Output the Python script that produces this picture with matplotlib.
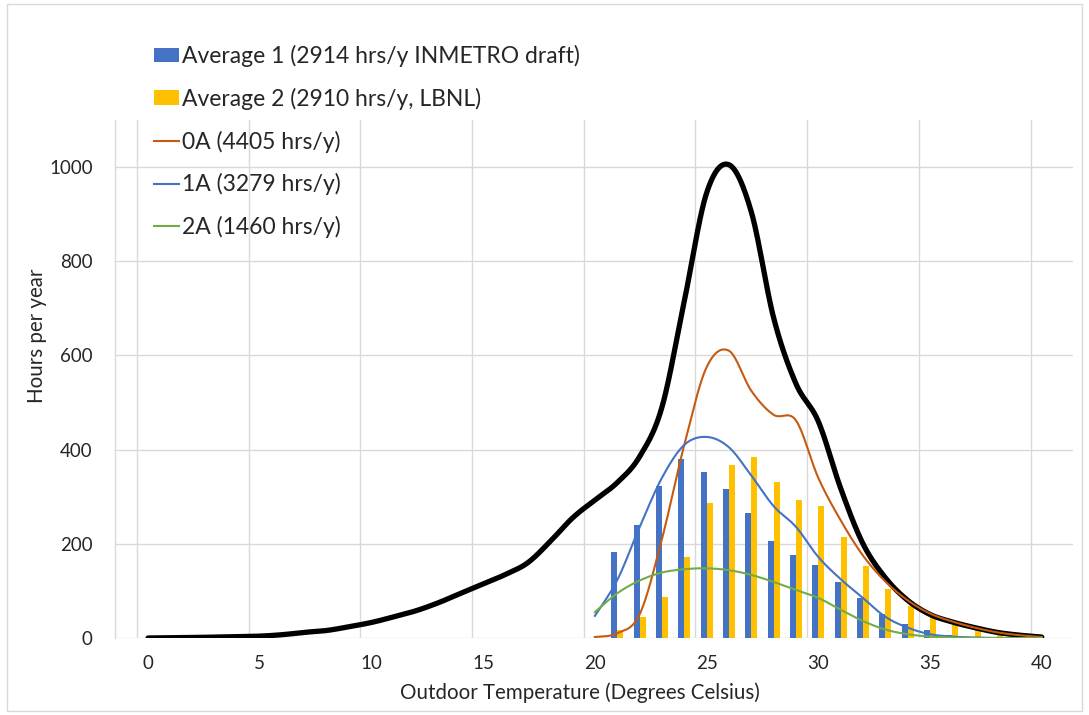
import numpy as np
import matplotlib
matplotlib.use("Agg")
import matplotlib.pyplot as plt
from matplotlib.patches import Rectangle

plt.rcParams['font.family'] = ['Lato', 'DejaVu Sans']

# ---------------- data ----------------
temps_all = list(range(0, 41))
total_hours = [0, 0.5, 1, 2, 3, 4, 7, 12, 16, 24, 33, 45, 58, 75, 95, 115, 135, 160,
               205, 255, 293, 330, 385, 490, 715, 945, 1005, 905, 680, 540, 460, 318,
               200, 128, 80, 50, 34, 22, 12, 6, 2]

temps_zone = list(range(20, 41))
zone_0A = [2, 10, 50, 210, 410, 575, 610, 525, 474, 462, 340, 250, 175, 120, 80, 52,
           35, 22, 12, 6, 2]
zone_1A = [47, 123, 235, 340, 410, 427, 405, 345, 280, 236, 172, 125, 85, 45, 22, 8,
           3, 1, 0, 0, 0]
zone_2A = [55, 95, 122, 139, 146, 148, 144, 134, 119, 102, 85, 60, 36, 18, 8, 3,
           1, 0, 0, 0, 0]

temps_bar = list(range(21, 41))
avg1 = [182, 240, 323, 380, 353, 317, 265, 206, 176, 154, 118, 84, 52, 30, 16, 6, 2, 1, 0, 0]
avg2 = [18, 45, 88, 171, 286, 367, 384, 331, 294, 280, 214, 153, 103, 67, 44, 28, 16, 6, 2, 1]

labels = ["Average 1 (2914 hrs/y INMETRO draft)", "Average 2 (2910 hrs/y, LBNL)",
          "0A (4405 hrs/y)", "1A (3279 hrs/y)", "2A (1460 hrs/y)"]
xticks = [0, 5, 10, 15, 20, 25, 30, 35, 40]
yticks = [0, 200, 400, 600, 800, 1000]


def smooth(x, y, n=24):
    """Catmull-Rom smoothing (like Excel's smoothed line)."""
    x = np.asarray(x, float)
    y = np.asarray(y, float)
    P = np.column_stack([x, y])
    P = np.vstack([P[0], P, P[-1]])
    out = []
    t = np.linspace(0, 1, n, endpoint=False)
    for i in range(1, len(P) - 2):
        p0, p1, p2, p3 = P[i - 1], P[i], P[i + 1], P[i + 2]
        tt = t[:, None]
        pts = 0.5 * ((2 * p1) + (-p0 + p2) * tt + (2 * p0 - 5 * p1 + 4 * p2 - p3) * tt ** 2
                     + (-p0 + 3 * p1 - 3 * p2 + p3) * tt ** 3)
        out.append(pts)
    out.append(P[-2][None, :])
    out = np.vstack(out)
    return out[:, 0], out[:, 1]


W, H = 1089, 715
fig = plt.figure(figsize=(W / 100, H / 100), dpi=100)
L, R, T, B = 115, 1073, 120, 638
ax = fig.add_axes([L / W, 1 - B / H, (R - L) / W, (B - T) / H])

# chart border
fig.patches.append(Rectangle((7 / W, 4 / H), (W - 14) / W, (H - 8) / H,
                             transform=fig.transFigure, fill=False,
                             edgecolor='#d9d9d9', linewidth=1.0))

ax.set_xlim(-1.48, 41.4)
ax.set_ylim(0, 1100)

grid_c = '#d9d9d9'
ax.set_yticks(yticks)
ax.set_xticks(xticks)
ax.set_xticks([v - 0.5 for v in range(0, 41, 5)], minor=True)
ax.grid(axis='y', which='major', color=grid_c, linewidth=1.0)
ax.grid(axis='x', which='minor', color=grid_c, linewidth=1.0)
ax.set_axisbelow(True)
for s in ['top', 'right', 'bottom']:
    ax.spines[s].set_visible(False)
ax.spines['left'].set_color(grid_c)
ax.spines['left'].set_linewidth(1.0)
ax.tick_params(which='both', length=0)
ax.tick_params(axis='x', pad=12, labelsize=13.5, labelcolor='#262626')
ax.tick_params(axis='y', pad=16, labelsize=13.5, labelcolor='#262626')

bw = 0.27
tb = np.array(temps_bar, float)
h1 = ax.bar(tb - bw / 2, avg1, width=bw, color='#4472C4', label=labels[0], zorder=2)
h2 = ax.bar(tb + bw / 2, avg2, width=bw, color='#FFC000', label=labels[1], zorder=2)

xs, ys = smooth(temps_all, total_hours)
ax.plot(xs, ys, color='black', linewidth=3.8, solid_capstyle='round', zorder=3)
xs, ys = smooth(temps_zone, zone_0A)
l0, = ax.plot(xs, ys, color='#C55A11', linewidth=1.5, label=labels[2], zorder=4)
xs, ys = smooth(temps_zone, zone_1A)
l1, = ax.plot(xs, ys, color='#4472C4', linewidth=1.5, label=labels[3], zorder=4)
xs, ys = smooth(temps_zone, zone_2A)
l2, = ax.plot(xs, ys, color='#70AD47', linewidth=1.5, label=labels[4], zorder=4)

ax.set_xlabel("Outdoor Temperature (Degrees Celsius)", fontsize=14.8, color='#262626')
ax.set_ylabel("Hours per year", fontsize=14.8, color='#262626')
ax.xaxis.set_label_coords((580 - L) / (R - L), (B - 693) / (B - T))
ax.yaxis.set_label_coords((37 - L) / (R - L), (B - 336) / (B - T))
ax.xaxis.label.set_va('center')
ax.yaxis.label.set_va('center')

leg = fig.legend([h1, h2, l0, l1, l2], labels, loc='upper left',
                 bbox_to_anchor=(154 / W, 1 - 45 / H), frameon=False,
                 fontsize=16.5, handlelength=1.1, handleheight=0.6,
                 handletextpad=0.12, labelspacing=0.9, borderpad=0,
                 borderaxespad=0)
for t in leg.get_texts():
    t.set_color('#262626')

fig.savefig("out.png", dpi=100)
